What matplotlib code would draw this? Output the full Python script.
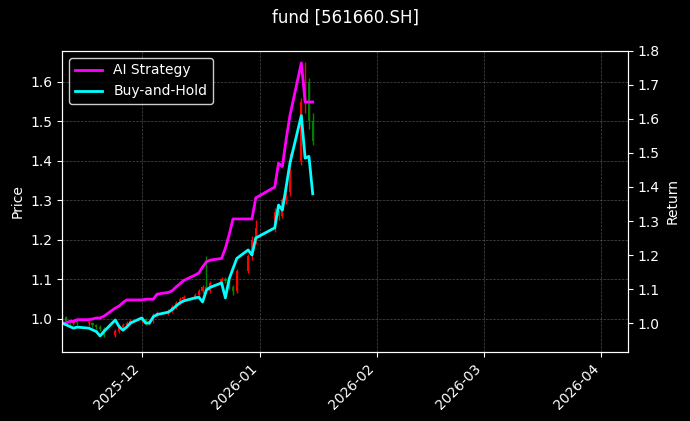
import matplotlib
matplotlib.use("Agg")
import matplotlib.pyplot as plt
import matplotlib.dates as mdates
import pandas as pd

plt.style.use("dark_background")

dates = ["2025-11-10","2025-11-11","2025-11-12","2025-11-13","2025-11-14",
         "2025-11-17","2025-11-18","2025-11-19","2025-11-20","2025-11-21",
         "2025-11-24","2025-11-25","2025-11-26","2025-11-27","2025-11-28",
         "2025-12-01","2025-12-02","2025-12-03","2025-12-04","2025-12-05",
         "2025-12-08","2025-12-09","2025-12-10","2025-12-11","2025-12-12",
         "2025-12-15","2025-12-16","2025-12-17","2025-12-18","2025-12-19",
         "2025-12-22","2025-12-23","2025-12-24","2025-12-25","2025-12-26",
         "2025-12-29","2025-12-30","2025-12-31",
         "2026-01-05","2026-01-06","2026-01-07","2026-01-08","2026-01-09",
         "2026-01-12","2026-01-13","2026-01-14","2026-01-15"]
opens  = [1.000,1.005,0.995,0.990,0.995, 0.990,0.990,0.985,0.980,0.975,
          0.960,0.970,0.980,0.985,0.990, 0.995,1.000,0.990,0.995,1.010,
          1.015,1.020,1.030,1.040,1.050, 1.055,1.060,1.070,1.080,1.070,
          1.090,1.100,1.095,1.080,1.070, 1.120,1.160,1.200,
          1.230,1.270,1.260,1.300,1.320, 1.400,1.550,1.600,1.500]
closes = [1.005,0.995,0.990,0.995,0.990, 0.990,0.985,0.980,0.975,0.960,
          0.970,0.980,0.985,0.990,0.995, 1.000,0.990,0.995,1.010,1.015,
          1.020,1.030,1.040,1.050,1.055, 1.060,1.070,1.080,1.070,1.090,
          1.100,1.095,1.080,1.070,1.120, 1.160,1.200,1.230,
          1.270,1.260,1.300,1.320,1.400, 1.550,1.600,1.500,1.450]
highs  = [1.012,1.008,0.998,0.998,0.998, 0.995,0.993,0.988,0.983,0.978,
          0.975,0.985,0.990,0.995,1.000, 1.005,1.003,0.998,1.015,1.020,
          1.025,1.035,1.045,1.055,1.060, 1.065,1.075,1.085,1.160,1.095,
          1.105,1.105,1.100,1.085,1.125, 1.165,1.210,1.250,
          1.280,1.275,1.305,1.330,1.420, 1.560,1.650,1.610,1.520]
lows   = [0.995,0.990,0.985,0.985,0.985, 0.982,0.980,0.975,0.970,0.955,
          0.955,0.965,0.975,0.980,0.985, 0.990,0.985,0.985,0.990,1.005,
          1.010,1.015,1.025,1.035,1.045, 1.050,1.055,1.065,1.065,1.065,
          1.085,1.090,1.075,1.060,1.065, 1.115,1.150,1.190,
          1.220,1.250,1.255,1.290,1.310, 1.390,1.520,1.480,1.440]

ai_ret = [1.000,1.000,1.005,1.005,1.010, 1.010,1.012,1.015,1.015,1.020,
          1.044,1.050,1.060,1.068,1.068, 1.068,1.070,1.070,1.070,1.085,
          1.090,1.095,1.106,1.115,1.125, 1.141,1.147,1.165,1.180,1.185,
          1.190,1.220,1.260,1.306,1.306, 1.306,1.306,1.368,
          1.400,1.470,1.460,1.540,1.610, 1.765,1.650,1.650,1.650]
bh_ret = [1.000,0.995,0.990,0.985,0.988, 0.985,0.980,0.975,0.962,0.975,
          1.009,0.990,0.979,0.988,1.000, 1.015,1.000,1.000,1.018,1.025,
          1.032,1.040,1.050,1.059,1.065, 1.074,1.076,1.062,1.097,1.105,
          1.118,1.074,1.130,1.160,1.190, 1.215,1.200,1.250,
          1.280,1.347,1.332,1.400,1.470, 1.610,1.485,1.490,1.380]

d = pd.to_datetime(dates)

fig, ax = plt.subplots(figsize=(6.9, 4.21), dpi=100)
fig.patch.set_facecolor("black")
ax.set_facecolor("black")
fig.subplots_adjust(left=0.09, right=0.91, top=0.879, bottom=0.164)

w = 0.6
for x, o, c, h, l in zip(d, opens, closes, highs, lows):
    col = "red" if c >= o else "green"
    ax.vlines(x, l, h, color=col, linewidth=1)
    ax.bar(x, abs(c - o) if abs(c - o) > 0.002 else 0.002, bottom=min(o, c),
           width=w, color=col)

ax.set_ylim(0.916, 1.678)
ax.set_xlim(pd.Timestamp("2025-11-10"), pd.Timestamp("2026-04-08"))
ax.set_ylabel("Price")
ax.grid(True, color="gray", linestyle="--", linewidth=0.5, alpha=0.6)
ax.xaxis.set_major_locator(mdates.MonthLocator())
ax.xaxis.set_major_formatter(mdates.DateFormatter("%Y-%m"))
plt.setp(ax.get_xticklabels(), rotation=45, ha="right")

ax2 = ax.twinx()
ax2.plot(d, ai_ret, color="magenta", linewidth=2, label="AI Strategy")
ax2.plot(d, bh_ret, color="cyan", linewidth=2, label="Buy-and-Hold")
ax2.set_ylim(0.915, 1.8)
ax2.set_ylabel("Return")
ax2.legend(loc="upper left", facecolor="black", edgecolor="white")

fig.suptitle("fund [561660.SH]")
fig.savefig("out.png", dpi=100, facecolor="black")
